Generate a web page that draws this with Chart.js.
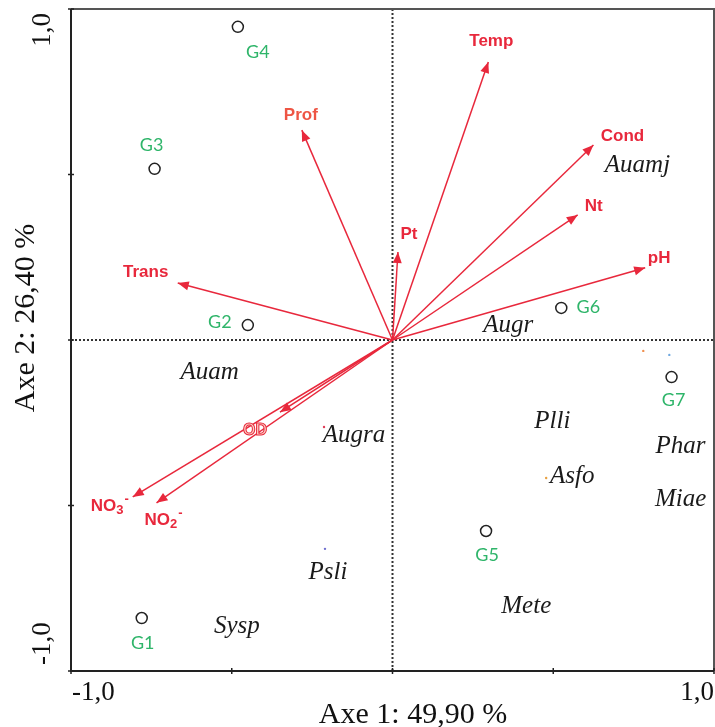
<!DOCTYPE html>
<html>
<head>
<meta charset="utf-8">
<script src="https://cdn.jsdelivr.net/npm/chart.js@4"></script>
<style>
  html, body { margin: 0; padding: 0; background: #fff; }
  #wrap { width: 715px; height: 727px; }
</style>
</head>
<body>
<div id="wrap"><canvas id="acp"></canvas></div>
<script>
// sites (open circles)
const siteNames = ['G1', 'G2', 'G3', 'G4', 'G5', 'G6', 'G7'];
const siteX = [-0.780, -0.450, -0.740, -0.481, 0.291, 0.525, 0.868];
const siteY = [-0.840, 0.045, 0.517, 0.946, -0.577, 0.097, -0.112];

// environmental variables (arrows from the origin)
const varNames = ['Temp', 'Cond', 'Nt', 'pH', 'Pt', 'Prof', 'Trans', 'NO3', 'NO2', 'OD'];
const varX = [0.298, 0.625, 0.576, 0.786, 0.017, -0.282, -0.668, -0.808, -0.734, -0.350];
const varY = [0.840, 0.589, 0.378, 0.218, 0.266, 0.634, 0.172, -0.474, -0.492, -0.218];

// species
const spNames = ['Auamj', 'Augr', 'Auam', 'Augra', 'Psli', 'Sysp', 'Plli', 'Asfo', 'Phar', 'Miae', 'Mete'];
const spX = [0.762, 0.360, -0.569, -0.120, -0.201, -0.484, 0.497, 0.559, 0.896, 0.896, 0.416];
const spY = [0.526, 0.045, -0.097, -0.287, -0.701, -0.864, -0.245, -0.411, -0.323, -0.483, -0.804];

// the few species points that show as specks
const dotX = [-0.213, -0.210, 0.478, 0.780, 0.861];
const dotY = [-0.263, -0.631, -0.417, -0.033, -0.045];

// axes
const tickVals = [-1, -0.5, 0, 0.5, 1];
const axisMin = -1, axisMax = 1;
const xTitle = 'Axe 1: 49,90 %';
const yTitle = 'Axe 2: 26,40 %';
const xTickText = ['-1,0', '1,0'];
const yTickText = ['-1,0', '1,0'];

// styling
const RED = '#e8283c';
const GREEN = '#2fb56a';
const dotColors = ['#e0405a', '#7070d0', '#e8a040', '#f09050', '#70a8e0'];
// label offsets in px from the arrow tip / site
const varLabelOff = [[3, -21], [29, -9], [16, -9], [14, -10], [11, -18], [-1, -15], [-32, -11], [-23, 9], [7, 17], [-25, 18]];
const siteLabelOff = [[1, 25], [-28, -3], [-3, -24], [20, 25], [1, 24], [27, -1], [2, 23]];

const sitePoints = siteX.map((x, i) => ({ x: x, y: siteY[i] }));
const dotPoints = dotX.map((x, i) => ({ x: x, y: dotY[i] }));

const arrowSets = varNames.map((n, i) => ({
  label: n,
  data: [{ x: 0, y: 0 }, { x: varX[i], y: varY[i] }],
  showLine: true,
  borderColor: RED,
  borderWidth: 1.5,
  pointRadius: 0,
  order: 2
}));

function drawIon(ctx, base, sub, cx, cy, color) {
  ctx.save();
  ctx.fillStyle = color;
  ctx.textBaseline = 'middle';
  ctx.textAlign = 'left';
  ctx.font = 'bold 17px "Liberation Sans", Arial, sans-serif';
  const wb = ctx.measureText(base).width;
  ctx.font = 'bold 13px "Liberation Sans", Arial, sans-serif';
  const ws = ctx.measureText(sub).width;
  const wm = ctx.measureText('-').width;
  let x = cx - (wb + ws + wm + 1) / 2;
  ctx.font = 'bold 17px "Liberation Sans", Arial, sans-serif';
  ctx.fillText(base, x, cy);
  x += wb;
  ctx.font = 'bold 13px "Liberation Sans", Arial, sans-serif';
  ctx.fillText(sub, x, cy + 5);
  x += ws + 1;
  ctx.fillText('-', x, cy - 6);
  ctx.restore();
}

const biplotDecor = {
  id: 'biplotDecor',
  beforeDatasetsDraw(chart) {
    const ctx = chart.ctx, a = chart.chartArea;
    const xs = chart.scales.x, ys = chart.scales.y;
    ctx.save();
    // dotted zero lines
    ctx.strokeStyle = '#333';
    ctx.lineWidth = 2;
    ctx.setLineDash([2, 2]);
    const x0 = xs.getPixelForValue(0), y0 = ys.getPixelForValue(0);
    ctx.beginPath();
    ctx.moveTo(x0, a.top); ctx.lineTo(x0, a.bottom);
    ctx.moveTo(a.left, y0); ctx.lineTo(a.right, y0);
    ctx.stroke();
    ctx.setLineDash([]);
    // frame
    ctx.strokeStyle = '#555';
    ctx.lineWidth = 2;
    ctx.beginPath();
    ctx.moveTo(a.left, a.top); ctx.lineTo(a.right, a.top); ctx.lineTo(a.right, a.bottom);
    ctx.stroke();
    ctx.strokeStyle = '#222';
    ctx.beginPath();
    ctx.moveTo(a.left, a.top); ctx.lineTo(a.left, a.bottom); ctx.lineTo(a.right, a.bottom);
    ctx.stroke();
    // tick marks
    ctx.lineWidth = 1.5;
    tickVals.forEach(v => {
      const px = xs.getPixelForValue(v), py = ys.getPixelForValue(v);
      ctx.beginPath();
      ctx.moveTo(px, a.bottom - 3); ctx.lineTo(px, a.bottom + 3);
      ctx.moveTo(a.left - 3, py); ctx.lineTo(a.left + 3, py);
      ctx.stroke();
    });
    ctx.restore();
  },
  afterDatasetsDraw(chart) {
    const ctx = chart.ctx, a = chart.chartArea;
    const xs = chart.scales.x, ys = chart.scales.y;
    const ox = xs.getPixelForValue(0), oy = ys.getPixelForValue(0);
    ctx.save();

    // arrow heads and variable labels
    varNames.forEach((n, i) => {
      const tx = xs.getPixelForValue(varX[i]), ty = ys.getPixelForValue(varY[i]);
      const ang = Math.atan2(ty - oy, tx - ox);
      const L = 11, W = 4.5;
      ctx.fillStyle = RED;
      ctx.beginPath();
      ctx.moveTo(tx, ty);
      ctx.lineTo(tx - L * Math.cos(ang) + W * Math.sin(ang), ty - L * Math.sin(ang) - W * Math.cos(ang));
      ctx.lineTo(tx - L * Math.cos(ang) - W * Math.sin(ang), ty - L * Math.sin(ang) + W * Math.cos(ang));
      ctx.closePath();
      ctx.fill();

      const lx = tx + varLabelOff[i][0], ly = ty + varLabelOff[i][1];
      if (n === 'NO3' || n === 'NO2') {
        drawIon(ctx, 'NO', n.slice(2), lx, ly, RED);
      } else if (n === 'OD') {
        ctx.font = 'bold 16px "Liberation Sans", Arial, sans-serif';
        ctx.textAlign = 'center';
        ctx.textBaseline = 'middle';
        ctx.fillStyle = '#fbd0c4';
        ctx.fillText(n, lx, ly);
        ctx.strokeStyle = RED;
        ctx.lineWidth = 1;
        ctx.strokeText(n, lx, ly);
      } else {
        ctx.font = 'bold 17px "Liberation Sans", Arial, sans-serif';
        ctx.textAlign = 'center';
        ctx.textBaseline = 'middle';
        ctx.fillStyle = n === 'Prof' ? '#ee5544' : RED;
        ctx.fillText(n, lx, ly);
      }
    });

    // site labels
    ctx.font = '18px Lato, "Open Sans", sans-serif';
    ctx.fillStyle = GREEN;
    ctx.textAlign = 'center';
    ctx.textBaseline = 'middle';
    siteNames.forEach((n, i) => {
      ctx.fillText(n, xs.getPixelForValue(siteX[i]) + siteLabelOff[i][0], ys.getPixelForValue(siteY[i]) + siteLabelOff[i][1]);
    });

    // species names
    ctx.font = 'italic 25px "Liberation Serif", "Times New Roman", serif';
    ctx.fillStyle = '#1a1a1a';
    spNames.forEach((n, i) => {
      ctx.fillText(n, xs.getPixelForValue(spX[i]), ys.getPixelForValue(spY[i]));
    });

    // tick labels
    ctx.fillStyle = '#111';
    ctx.font = '27px "Liberation Serif", "Times New Roman", serif';
    ctx.textBaseline = 'middle';
    ctx.textAlign = 'left';
    ctx.fillText(xTickText[0], xs.getPixelForValue(axisMin) + 1, a.bottom + 22);
    ctx.textAlign = 'right';
    ctx.fillText(xTickText[1], xs.getPixelForValue(axisMax), a.bottom + 22);

    ctx.save();
    ctx.translate(43, ys.getPixelForValue(axisMax) + 4);
    ctx.rotate(-Math.PI / 2);
    ctx.textAlign = 'right';
    ctx.fillText(yTickText[1], 0, 0);
    ctx.restore();
    ctx.save();
    ctx.translate(43, ys.getPixelForValue(axisMin) - 6);
    ctx.rotate(-Math.PI / 2);
    ctx.textAlign = 'left';
    ctx.fillText(yTickText[0], 0, 0);
    ctx.restore();

    // axis titles
    ctx.font = '30px "Liberation Serif", "Times New Roman", serif';
    ctx.textAlign = 'center';
    ctx.fillText(xTitle, 413, a.bottom + 44);
    ctx.save();
    ctx.translate(26, 318);
    ctx.rotate(-Math.PI / 2);
    ctx.fillText(yTitle, 0, 0);
    ctx.restore();

    ctx.restore();
  }
};

new Chart(document.getElementById('acp'), {
  type: 'scatter',
  data: {
    datasets: [
      ...arrowSets,
      {
        label: 'species',
        data: dotPoints,
        pointRadius: 1.2,
        pointBackgroundColor: dotColors,
        pointBorderWidth: 0,
        order: 1
      },
      {
        label: 'sites',
        data: sitePoints,
        pointRadius: 5.5,
        pointBorderColor: '#222',
        pointBorderWidth: 1.5,
        pointBackgroundColor: '#fff',
        order: 0
      }
    ]
  },
  options: {
    responsive: true,
    maintainAspectRatio: false,
    animation: false,
    layout: { autoPadding: false, padding: { left: 71, right: 1, top: 9, bottom: 56 } },
    plugins: { legend: { display: false }, tooltip: { enabled: false } },
    scales: {
      x: { type: 'linear', min: axisMin, max: axisMax, display: false },
      y: { type: 'linear', min: axisMin, max: axisMax, display: false }
    }
  },
  plugins: [biplotDecor]
});
</script>
</body>
</html>
